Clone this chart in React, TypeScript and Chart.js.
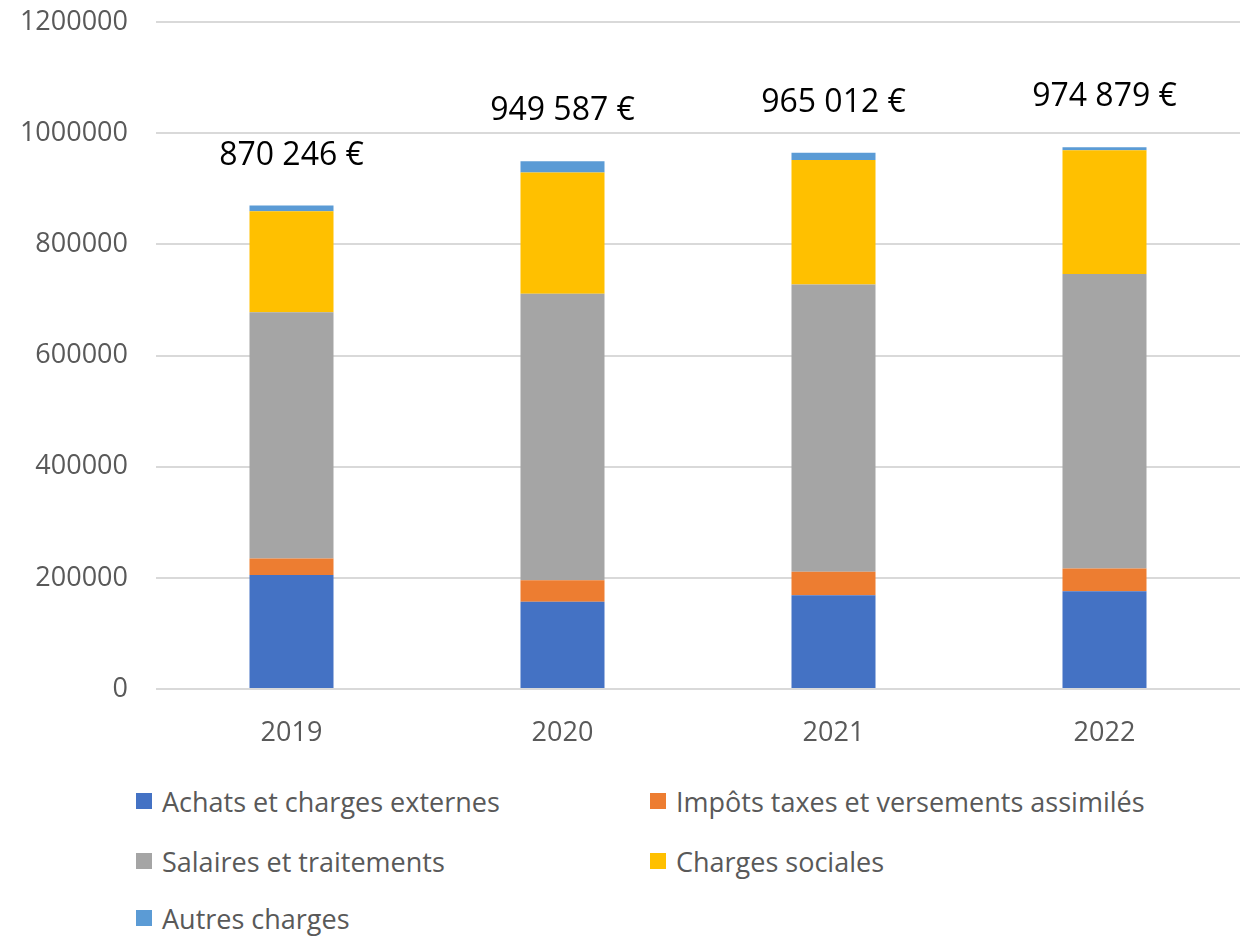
import React, { useEffect, useRef } from "react";
import { Chart, registerables } from "chart.js";

Chart.register(...registerables);

const years = ["2019", "2020", "2021", "2022"];
const achats = [205000, 157000, 168500, 175700];
const impots = [30000, 38500, 42500, 41000];
const salaires = [443000, 516000, 517000, 530000];
const sociales = [182000, 218000, 224000, 223000];
const autres = [10246, 20087, 13012, 5179];
const totalLabels = ["870 246 €", "949 587 €", "965 012 €", "974 879 €"];

const seriesNames = [
  "Achats et charges externes",
  "Impôts taxes et versements assimilés",
  "Salaires et traitements",
  "Charges sociales",
  "Autres charges",
];
const seriesColors = ["#4472C4", "#ED7D31", "#A5A5A5", "#FFC000", "#5B9BD5"];
const seriesData = [achats, impots, salaires, sociales, autres];

const FONT = "'Open Sans', 'DejaVu Sans', sans-serif";

const totalsPlugin = {
  id: "totals",
  afterDatasetsDraw(chart: any) {
    const ctx = chart.ctx;
    const y = chart.scales.y;
    const x = chart.scales.x;
    ctx.save();
    ctx.font = `32px ${FONT}`;
    ctx.fillStyle = "#000000";
    ctx.textAlign = "center";
    ctx.textBaseline = "middle";
    years.forEach((_, i) => {
      const total = seriesData.reduce((s, arr) => s + arr[i], 0);
      const px = x.getPixelForValue(i);
      const py = y.getPixelForValue(total) - 50;
      ctx.fillText(totalLabels[i], px, py);
    });
    ctx.restore();
  },
};

export default function App() {
  const ref = useRef<HTMLCanvasElement>(null);
  useEffect(() => {
    if (!ref.current) return;
    const chart = new Chart(ref.current, {
      type: "bar",
      data: {
        labels: years,
        datasets: seriesNames.map((name, i) => ({
          label: name,
          data: seriesData[i],
          backgroundColor: seriesColors[i],
          borderWidth: 0,
          barPercentage: 0.31,
          categoryPercentage: 1,
        })),
      },
      options: {
        responsive: false,
        animation: false,
        layout: { padding: { top: 0, right: 3, left: 0, bottom: 0 } },
        plugins: {
          legend: { display: false },
          tooltip: { enabled: false },
        },
        scales: {
          x: {
            stacked: true,
            grid: { display: false },
            border: { display: false },
            ticks: { color: "#595959", font: { size: 27, family: FONT }, padding: 20 },
            afterFit: (s: any) => {
              s.height = 71;
            },
          },
          y: {
            stacked: true,
            min: 0,
            max: 1200000,
            grid: { color: "#d9d9d9", lineWidth: 2, drawTicks: false },
            border: { display: false },
            ticks: {
              stepSize: 200000,
              color: "#595959",
              font: { size: 27, family: FONT },
              padding: 28,
              callback: (v: any) => String(v),
            },
            afterFit: (s: any) => {
              s.width = 156;
            },
          },
        },
      },
      plugins: [totalsPlugin],
    });
    return () => chart.destroy();
  }, []);

  const legendItem = (i: number, left: number, top: number) => (
    <div
      key={i}
      style={{
        position: "absolute",
        left,
        top,
        height: 36,
        display: "flex",
        alignItems: "center",
        fontFamily: FONT,
        fontSize: 27,
        color: "#595959",
        whiteSpace: "nowrap",
      }}
    >
      <span
        style={{
          display: "inline-block",
          width: 16,
          height: 16,
          background: seriesColors[i],
          marginRight: 10,
        }}
      />
      {seriesNames[i]}
    </div>
  );

  return (
    <div style={{ position: "absolute", left: 0, top: 0, width: 1243, height: 937, background: "#fff", overflow: "hidden" }}>
      <canvas
        ref={ref}
        width={1243}
        height={782}
        style={{ display: "block", position: "absolute", left: 0, top: -22 }}
      />
      {legendItem(0, 136, 783)}
      {legendItem(1, 650, 783)}
      {legendItem(2, 136, 843)}
      {legendItem(3, 650, 843)}
      {legendItem(4, 136, 900)}
    </div>
  );
}
